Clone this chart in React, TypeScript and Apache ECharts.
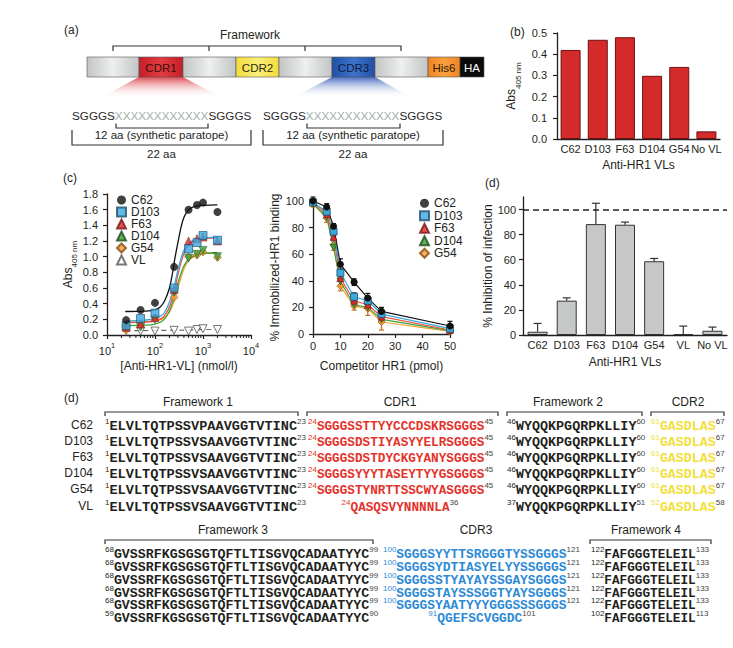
import React, { useEffect, useRef } from 'react';
import * as echarts from 'echarts';

const FONT = '"Liberation Sans", Arial, Helvetica, sans-serif';
const MONO = '"Liberation Mono", "DejaVu Sans Mono", monospace';
const INK = '#231f20';

// ---- (b) ELISA binding of the selected VLs ----
const elisaCategories = ['C62', 'D103', 'F63', 'D104', 'G54', 'No VL'];
const elisaAbs405 = [0.42, 0.468, 0.48, 0.298, 0.34, 0.036];

// ---- (c) titration against immobilized HR1 ----
const titrationNmol = [25, 50, 100, 250, 500, 750, 1000, 2000];
const titrationC62 = [0.19, 0.32, 0.41, 0.87, 1.6, 1.66, 1.69, 1.57];
const titrationD103 = [0.12, 0.21, 0.28, 0.6, 1.1, 1.18, 1.27, 1.21];
const titrationF63 = [0.1, 0.14, 0.22, 0.58, 1.2, 1.23, 1.25, 1.2];
const titrationD104 = [0.09, 0.1, 0.2, 0.55, 0.98, 1.03, 1.08, 1.0];
const titrationG54 = [0.06, 0.12, 0.22, 0.48, 1.0, 1.02, 1.06, 0.99];
const titrationVL = [0.06, 0.05, 0.05, 0.06, 0.05, 0.07, 0.08, 0.07];

// fitted binding curves, [nmol/l, Abs405]
const fitC62 = [[24, 0.3], [60, 0.305], [100, 0.32], [130, 0.36], [160, 0.44], [200, 0.6], [230, 0.78], [260, 0.98], [300, 1.18], [350, 1.38], [400, 1.5], [500, 1.6], [650, 1.64], [1000, 1.655], [2000, 1.66]];
const fitD103 = [[24, 0.18], [60, 0.19], [100, 0.21], [150, 0.27], [200, 0.42], [250, 0.62], [300, 0.83], [350, 0.98], [400, 1.08], [500, 1.17], [700, 1.22], [1000, 1.24], [2000, 1.25]];
const fitF63 = [[24, 0.16], [60, 0.165], [100, 0.18], [150, 0.23], [200, 0.36], [250, 0.55], [300, 0.77], [350, 0.93], [400, 1.04], [500, 1.15], [700, 1.21], [1000, 1.23], [2000, 1.24]];
const fitD104 = [[24, 0.12], [60, 0.125], [100, 0.14], [150, 0.19], [200, 0.31], [250, 0.48], [300, 0.66], [350, 0.79], [400, 0.88], [500, 0.97], [700, 1.02], [1000, 1.04], [2000, 1.05]];
const fitG54 = [[24, 0.165], [60, 0.17], [100, 0.18], [150, 0.21], [200, 0.29], [250, 0.43], [300, 0.6], [350, 0.74], [400, 0.84], [500, 0.95], [700, 1.01], [1000, 1.04], [2000, 1.05]];
const fitVL = [[24, 0.055], [300, 0.06], [1000, 0.07], [2000, 0.07]];
const logMinorTicks = [20, 30, 40, 50, 60, 70, 80, 90, 200, 300, 400, 500, 600, 700, 800, 900, 2000, 3000, 4000, 5000, 6000, 7000, 8000, 9000];

// ---- (c) competition with soluble HR1 ----
const competitorPmol = [0, 5, 7.5, 10, 15, 20, 25, 50];
const bindC62 = [100, 95.5, 81, 52.5, 39, 27, 17, 6];
const bindD103 = [99, 92, 77, 46, 28, 25, 15, 4];
const bindF63 = [99, 90, 73, 42, 25, 22, 13, 3];
const bindD104 = [98, 88, 65, 39.5, 22, 20, 11, 2.5];
const bindG54 = [98, 87, 67, 36, 21, 19, 9, 2];
const bindErrC62 = [3, 2.5, 2, 4, 2.5, 3.5, 3, 3.5];
const bindErrD103 = [2, 2, 2.5, 3, 3, 3, 2.5, 2];
const bindErrG54 = [2.5, 3, 4, 3.5, 3, 5, 6, 2];

// ---- (d) inhibition of infection ----
const inhibitionCategories = ['C62', 'D103', 'F63', 'D104', 'G54', 'VL', 'No VL'];
const inhibitionPct = [2.6, 27.4, 88.4, 87.9, 58.8, 0.8, 3.4];
const inhibitionErr = [6.6, 2.2, 16.6, 2.1, 2.2, 6.3, 2.9];

// ---- (d) sequences ----
const seqNames = ['C62', 'D103', 'F63', 'D104', 'G54', 'VL'];
const seqFW1 = ['ELVLTQTPSSVPAAVGGTVTINC', 'ELVLTQTPSSVSAAVGGTVTINC', 'ELVLTQTPSSVSAAVGGTVTINC', 'ELVLTQTPSSVSAAVGGTVTINC', 'ELVLTQTPSSVSAAVGGTVTINC', 'ELVLTQTPSSVSAAVGGTVTINC'];
const seqCDR1 = ['SGGGSSTTYYCCCDSKRSGGGS', 'SGGGSDSTIYASYYELRSGGGS', 'SGGGSDSTDYCKGYANYSGGGS', 'SGGGSYYYTASEYTYYGSGGGS', 'SGGGSTYNRTTSSCWYASGGGS', 'QASQSVYNNNNLA'];
const seqFW2 = ['WYQQKPGQRPKLLIY', 'WYQQKPGQRPKLLIY', 'WYQQKPGQRPKLLIY', 'WYQQKPGQRPKLLIY', 'WYQQKPGQRPKLLIY', 'WYQQKPGQRPKLLIY'];
const seqCDR2 = ['GASDLAS', 'GASDLAS', 'GASDLAS', 'GASDLAS', 'GASDLAS', 'GASDLAS'];
const seqFW3 = ['GVSSRFKGSGSGTQFTLTISGVQCADAATYYC', 'GVSSRFKGSGSGTQFTLTISGVQCADAATYYC', 'GVSSRFKGSGSGTQFTLTISGVQCADAATYYC', 'GVSSRFKGSGSGTQFTLTISGVQCADAATYYC', 'GVSSRFKGSGSGTQFTLTISGVQCADAATYYC', 'GVSSRFKGSGSGTQFTLTISGVQCADAATYYC'];
const seqCDR3 = ['SGGGSYYTTSRGGGTYSSGGGS', 'SGGGSYDTIASYELYYSSGGGS', 'SGGGSSTYAYAYSSGAYSGGGS', 'SGGGSTAYSSSGGTYAYSGGGS', 'SGGGSYAATYYYGGGSSSGGGS', 'QGEFSCVGGDC'];
const seqFW4 = ['FAFGGGTELEIL', 'FAFGGGTELEIL', 'FAFGGGTELEIL', 'FAFGGGTELEIL', 'FAFGGGTELEIL', 'FAFGGGTELEIL'];
const numFW1 = [[1, 23], [1, 23], [1, 23], [1, 23], [1, 23], [1, 23]];
const numCDR1 = [[24, 45], [24, 45], [24, 45], [24, 45], [24, 45], [24, 36]];
const numFW2 = [[46, 60], [46, 60], [46, 60], [46, 60], [46, 60], [37, 51]];
const numCDR2 = [[61, 67], [61, 67], [61, 67], [61, 67], [61, 67], [52, 58]];
const numFW3 = [[68, 99], [68, 99], [68, 99], [68, 99], [68, 99], [59, 90]];
const numCDR3 = [[100, 121], [100, 121], [100, 121], [100, 121], [100, 121], [91, 101]];
const numFW4 = [[122, 133], [122, 133], [122, 133], [122, 133], [122, 133], [102, 113]];

const COL = {
  C62: '#111111',
  D103: '#3ba8de',
  F63: '#d42b2b',
  D104: '#3a9d3a',
  G54: '#f29a2e',
};
const RED = '#e4322b';
const YELLOW = '#f2df3c';
const BLUE = '#2d8ad6';

const zip = (xs: number[], ys: number[]) => xs.map((x, i) => [x, ys[i]]);

const axisLine = { show: true, lineStyle: { color: INK, width: 1.3 } };
const axisTick = { show: true, length: 4, inside: false, lineStyle: { color: INK, width: 1.2 } };
const lab = (margin: number, extra: any = {}) => ({ color: INK, fontSize: 11, fontFamily: FONT, margin, ...extra });
const nameStyle = { color: INK, fontSize: 12, fontFamily: FONT };
const absName = {
  name: '{a|Abs}{s|405 nm}',
  nameTextStyle: {
    fontFamily: FONT,
    color: INK,
    rich: {
      a: { fontSize: 12, fontFamily: FONT, color: INK, verticalAlign: 'top' },
      s: { fontSize: 8, fontFamily: FONT, color: INK, verticalAlign: 'bottom', lineHeight: 17 },
    },
  },
};

// vertical error bar drawn in data space
const errorBar = (color: string, cap: number, both: boolean) => (_p: any, api: any) => {
  const x = api.value(0);
  const a = api.coord([x, api.value(1)]);
  const b = api.coord([x, api.value(2)]);
  const st = { stroke: color, lineWidth: 1.2 };
  const children: any[] = [
    { type: 'line', shape: { x1: a[0], y1: a[1], x2: b[0], y2: b[1] }, style: st },
    { type: 'line', shape: { x1: b[0] - cap, y1: b[1], x2: b[0] + cap, y2: b[1] }, style: st },
  ];
  if (both) children.push({ type: 'line', shape: { x1: a[0] - cap, y1: a[1], x2: a[0] + cap, y2: a[1] }, style: st });
  return { type: 'group', children };
};

const markers: Record<string, any> = {
  C62: { symbol: 'circle', symbolSize: 8, itemStyle: { color: COL.C62 } },
  D103: { symbol: 'rect', symbolSize: 8, itemStyle: { color: COL.D103, borderColor: '#1d4f6e', borderWidth: 0.8 } },
  F63: { symbol: 'triangle', symbolSize: 8, itemStyle: { color: COL.F63, borderColor: '#7a1515', borderWidth: 0.6 } },
  D104: { symbol: 'triangle', symbolRotate: 180, symbolSize: 8, itemStyle: { color: COL.D104, borderColor: '#1c4d1c', borderWidth: 0.6 } },
  G54: { symbol: 'diamond', symbolSize: 8, itemStyle: { color: COL.G54, borderColor: '#8a4a10', borderWidth: 0.6 } },
  VL: { symbol: 'triangle', symbolRotate: 180, symbolSize: 8, itemStyle: { color: '#ffffff', borderColor: '#555555', borderWidth: 1 } },
};

function buildGraphic(): any[] {
  const g: any[] = [];
  const text = (x: number, y: number, t: string, o: any = {}) =>
    g.push({
      type: 'text', x, y, silent: true,
      style: { text: t, fontFamily: FONT, fontSize: 12, fill: INK, align: 'center', textAlign: 'center', verticalAlign: 'middle', textVerticalAlign: 'middle', ...o },
    });
  const poly = (pts: number[][], w = 1.2) =>
    g.push({ type: 'polyline', silent: true, shape: { points: pts }, style: { stroke: '#333', lineWidth: w, fill: null } });
  const bracketDown = (x1: number, x2: number, y: number) => poly([[x1, y + 4], [x1, y], [x2, y], [x2, y + 4]]);

  // panel letters
  text(64, 30, '(a)', { align: 'left', textAlign: 'left' });
  text(510, 32, '(b)', { align: 'left', textAlign: 'left' });
  text(63, 178, '(c)', { align: 'left', textAlign: 'left' });
  text(485, 183, '(d)', { align: 'left', textAlign: 'left' });
  text(64, 398, '(d)', { align: 'left', textAlign: 'left' });

  // ---- (a) VL scaffold ----
  text(250, 35, 'Framework');
  poly([[113, 51], [113, 46], [401, 46], [401, 51]]);
  poly([[209, 46], [209, 51]]);
  poly([[305, 46], [305, 51]]);

  const grad = (c0: string, c1: string) => ({
    type: 'linear', x: 0, y: 0, x2: 1, y2: 0,
    colorStops: [{ offset: 0, color: c0 }, { offset: 0.5, color: c1 }, { offset: 1, color: c0 }],
  });
  // fans from CDR1 / CDR3 down to the randomized loops
  g.push({
    type: 'polygon', silent: true, shape: { points: [[139, 77], [183, 77], [222, 98], [100, 98]] },
    style: { fill: { type: 'linear', x: 0, y: 0, x2: 0, y2: 1, colorStops: [{ offset: 0, color: 'rgba(214,40,50,0.85)' }, { offset: 1, color: 'rgba(255,255,255,0)' }] } },
  });
  g.push({
    type: 'polygon', silent: true, shape: { points: [[332, 77], [375, 77], [412, 98], [292, 98]] },
    style: { fill: { type: 'linear', x: 0, y: 0, x2: 0, y2: 1, colorStops: [{ offset: 0, color: 'rgba(40,80,180,0.85)' }, { offset: 1, color: 'rgba(255,255,255,0)' }] } },
  });
  const segs: any[] = [
    { x0: 87, x1: 139, fill: grad('#c2c4c5', '#eeefef') },
    { x0: 139, x1: 183, fill: grad('#c41f2a', '#e23c42'), label: 'CDR1', tc: '#3b0d0d' },
    { x0: 183, x1: 236, fill: grad('#c2c4c5', '#eeefef') },
    { x0: 236, x1: 279, fill: grad('#f2dc3a', '#fbef7a'), label: 'CDR2', tc: '#2a2a10' },
    { x0: 279, x1: 332, fill: grad('#c2c4c5', '#eeefef') },
    { x0: 332, x1: 375, fill: grad('#2150a6', '#3d74c9'), label: 'CDR3', tc: '#0d1a40' },
    { x0: 375, x1: 428, fill: grad('#c2c4c5', '#eeefef') },
    { x0: 428, x1: 460, fill: grad('#ee8420', '#f9a040'), label: 'His6', tc: '#2a1a05' },
    { x0: 460, x1: 484, fill: '#0b0b0b', label: 'HA', tc: '#ffffff' },
  ];
  segs.forEach((s) => {
    g.push({ type: 'rect', silent: true, shape: { x: s.x0, y: 57, width: s.x1 - s.x0, height: 20 }, style: { fill: s.fill, stroke: '#555', lineWidth: 0.6 } });
    if (s.label) text((s.x0 + s.x1) / 2, 67.5, s.label, { fontSize: 11.5, fill: s.tc });
  });

  const loop = '{k|SGGGS}{x|XXXXXXXXXXXX}{k|SGGGS}';
  const loopRich = {
    k: { fontSize: 11.7, fontFamily: FONT, fill: '#2a2a2a' },
    x: { fontSize: 11.7, fontFamily: FONT, fill: '#9fb1aa' },
  };
  [[72, 251, 116, 208], [263, 443, 307, 400]].forEach(([o1, o2, i1, i2]) => {
    text(o1, 115, loop, { align: 'left', textAlign: 'left', rich: loopRich });
    poly([[i1, 123.5], [i1, 128], [i2, 128], [i2, 123.5]]);
    text((o1 + o2) / 2, 135, '12 aa (synthetic paratope)', { fontSize: 11.5 });
    poly([[o1, 130], [o1, 145], [o2, 145], [o2, 130]]);
    text((o1 + o2) / 2, 154, '22 aa', { fontSize: 11.5 });
  });

  // ---- (d) sequence alignment ----
  const rowsTop = [425, 441, 457, 473, 489, 506];
  const rowsBottom = [553, 566, 579, 592, 604, 617];
  seqNames.forEach((n, i) => text(93, rowsTop[i], n, { align: 'right', textAlign: 'right', fontSize: 12 }));

  const seq = (x: number, y: number, s: string, range: number[], color: string, size: number, align = 'left') => {
    text(x, y, `{p|${range[0]}}{m|${s}}{q|${range[1]}}`, {
      align, textAlign: align,
      rich: {
        p: { fontSize: 8, fontFamily: FONT, fill: color, verticalAlign: 'top' },
        m: { fontSize: size, fontFamily: MONO, fontWeight: 'bold', fill: color, verticalAlign: 'bottom', lineHeight: 16 },
        q: { fontSize: 8, fontFamily: FONT, fill: '#444', verticalAlign: 'top' },
      },
    });
  };
  const last = seqNames.length - 1;
  seqNames.forEach((_, i) => {
    const yt = rowsTop[i];
    const yb = rowsBottom[i];
    seq(105, yt, seqFW1[i], numFW1[i], INK, 13.6);
    if (i === last) seq(400, yt, seqCDR1[i], numCDR1[i], RED, 12.7, 'center');
    else seq(308, yt, seqCDR1[i], numCDR1[i], RED, 12.7);
    seq(507, yt, seqFW2[i], numFW2[i], INK, 13.4);
    seq(651, yt, seqCDR2[i], numCDR2[i], YELLOW, 13.3);
    seq(105, yb, seqFW3[i], numFW3[i], INK, 13.3);
    if (i === last) seq(482, yb, seqCDR3[i], numCDR3[i], BLUE, 12.9, 'center');
    else seq(383, yb, seqCDR3[i], numCDR3[i], BLUE, 12.9);
    seq(591, yb, seqFW4[i], numFW4[i], INK, 12.7);
  });

  text(198, 402, 'Framework 1');
  text(400, 402, 'CDR1');
  text(568, 402, 'Framework 2');
  text(688, 402, 'CDR2');
  bracketDown(105, 298, 412);
  bracketDown(307, 498, 412);
  bracketDown(507, 642, 412);
  bracketDown(651, 724, 412);

  text(233, 530, 'Framework 3');
  text(476, 530, 'CDR3');
  text(646, 530, 'Framework 4');
  bracketDown(105, 373, 540);
  bracketDown(590, 711, 540);
  return g;
}

function buildOption(): any {
  const series: any[] = [];

  // (b)
  series.push({
    type: 'bar', xAxisIndex: 0, yAxisIndex: 0, data: elisaAbs405, barWidth: 20,
    itemStyle: { color: '#d42a2a', borderColor: '#6e1212', borderWidth: 1 },
  });

  // (c) titration: measured points
  const titr: [string, number[]][] = [
    ['VL', titrationVL], ['G54', titrationG54], ['D104', titrationD104], ['F63', titrationF63], ['D103', titrationD103], ['C62', titrationC62],
  ];
  // fitted curves under the points
  const fits: [string, number[][], string][] = [
    ['G54', fitG54, '#f5a030'], ['D104', fitD104, '#3aa33a'], ['F63', fitF63, '#f05040'], ['D103', fitD103, '#3ba8de'], ['C62', fitC62, '#111111'],
  ];
  fits.forEach(([n, d, c]) =>
    series.push({
      name: n + ' fit', type: 'line', xAxisIndex: 1, yAxisIndex: 1, data: d, smooth: 0.35, showSymbol: false, symbol: 'none',
      lineStyle: { color: c, width: 1.3 }, z: 3, silent: true,
    }));
  series.push({
    name: 'VL fit', type: 'line', xAxisIndex: 1, yAxisIndex: 1, data: fitVL, showSymbol: false, symbol: 'none',
    lineStyle: { color: '#666', width: 1.2, type: [5, 4] }, z: 3, silent: true,
  });
  titr.forEach(([n, v]) =>
    series.push({ name: n, type: 'scatter', xAxisIndex: 1, yAxisIndex: 1, data: zip(titrationNmol, v), z: 5, ...markers[n] }));
  series.push({
    type: 'custom', xAxisIndex: 1, yAxisIndex: 1, silent: true, clip: false, z: 6,
    data: logMinorTicks.map((v) => [v, 0]),
    renderItem: (_p: any, api: any) => {
      const p = api.coord([api.value(0), 0]);
      return { type: 'line', shape: { x1: p[0], y1: p[1], x2: p[0], y2: p[1] + 3 }, style: { stroke: INK, lineWidth: 1 } };
    },
  });

  // (c) competition
  const comp: [string, number[], string][] = [
    ['G54', bindG54, '#f5a030'], ['D104', bindD104, '#3aa33a'], ['F63', bindF63, '#f05040'], ['D103', bindD103, '#3ba8de'], ['C62', bindC62, '#111111'],
  ];
  const errs: [number[], number[], string][] = [
    [bindG54, bindErrG54, '#c07020'], [bindD103, bindErrD103, '#1d4f6e'], [bindC62, bindErrC62, '#111111'],
  ];
  errs.forEach(([v, e, c]) =>
    series.push({
      type: 'custom', xAxisIndex: 2, yAxisIndex: 2, silent: true, clip: false, z: 2,
      data: competitorPmol.map((x, i) => [x, v[i] - e[i], v[i] + e[i]]),
      renderItem: errorBar(c, 2.5, true),
    }));
  comp.forEach(([n, v, c]) =>
    series.push({
      name: n, type: 'line', xAxisIndex: 2, yAxisIndex: 2, data: zip(competitorPmol, v), showSymbol: true,
      lineStyle: { color: c, width: 1.2 }, z: 4, ...markers[n], symbolSize: 7,
    }));

  // (d) inhibition
  series.push({
    type: 'bar', xAxisIndex: 3, yAxisIndex: 3, data: inhibitionPct, barWidth: 20, z: 2,
    itemStyle: { color: '#c6c7c7', borderColor: '#333', borderWidth: 1 },
    markLine: {
      silent: true, symbol: ['none', 'none'], label: { show: false },
      lineStyle: { color: INK, width: 1.5, type: [6, 4] },
      data: [{ yAxis: 100 }],
    },
  });
  series.push({
    type: 'custom', xAxisIndex: 3, yAxisIndex: 3, silent: true, clip: false, z: 3,
    data: inhibitionPct.map((v, i) => [i, v, v + inhibitionErr[i]]),
    renderItem: errorBar('#333', 4, false),
  });

  const gridBase = { outerBoundsMode: 'none', containLabel: false, show: false };

  return {
    animation: false,
    backgroundColor: '#ffffff',
    textStyle: { fontFamily: FONT },
    grid: [
      { ...gridBase, left: 557, top: 33, width: 163, height: 106 },
      { ...gridBase, left: 107, top: 194, width: 144, height: 141 },
      { ...gridBase, left: 313, top: 201, width: 137, height: 133 },
      { ...gridBase, left: 523, top: 197, width: 204, height: 138 },
    ],
    xAxis: [
      {
        gridIndex: 0, type: 'category', data: elisaCategories, axisLine, axisTick: { show: false },
        axisLabel: lab(4, { interval: 0 }), splitLine: { show: false },
        name: 'Anti-HR1 VLs', nameLocation: 'middle', nameGap: 20, nameTextStyle: nameStyle,
      },
      {
        gridIndex: 1, type: 'log', logBase: 10, min: 10, max: 10000, axisLine, axisTick,
        axisLabel: {
          margin: 6,
          formatter: (v: number) => `{b|10}{s|${Math.round(Math.log10(v))}}`,
          rich: {
            b: { fontSize: 11, fontFamily: FONT, color: INK, verticalAlign: 'bottom', lineHeight: 15 },
            s: { fontSize: 7.5, fontFamily: FONT, color: INK, verticalAlign: 'top' },
          },
        },
        splitLine: { show: false }, minorTick: { show: false },
        name: '[Anti-HR1-VL] (nmol/l)', nameLocation: 'middle', nameGap: 25, nameTextStyle: nameStyle,
      },
      {
        gridIndex: 2, type: 'value', min: 0, max: 50, interval: 10, axisLine, axisTick,
        axisLabel: lab(6), splitLine: { show: false },
        name: 'Competitor HR1 (pmol)', nameLocation: 'middle', nameGap: 26, nameTextStyle: nameStyle,
      },
      {
        gridIndex: 3, type: 'category', data: inhibitionCategories, axisLine, axisTick: { show: false },
        axisLabel: lab(4, { interval: 0 }), splitLine: { show: false },
        name: 'Anti-HR1 VLs', nameLocation: 'middle', nameGap: 21, nameTextStyle: nameStyle,
      },
    ],
    yAxis: [
      {
        gridIndex: 0, type: 'value', min: 0, max: 0.5, interval: 0.1, axisLine, axisTick,
        axisLabel: lab(10, { formatter: (v: number) => v.toFixed(1) }), splitLine: { show: false },
        nameLocation: 'middle', nameRotate: 90, nameGap: 35, ...absName,
      },
      {
        gridIndex: 1, type: 'value', min: 0, max: 1.8, interval: 0.2, axisLine, axisTick,
        axisLabel: lab(9, { formatter: (v: number) => v.toFixed(1) }), splitLine: { show: false },
        nameLocation: 'middle', nameRotate: 90, nameGap: 28, ...absName,
      },
      {
        gridIndex: 2, type: 'value', min: 0, max: 100, interval: 20, axisLine, axisTick,
        axisLabel: lab(9), splitLine: { show: false },
        name: '% Immobilized-HR1 binding', nameLocation: 'middle', nameRotate: 90, nameGap: 32, nameTextStyle: nameStyle,
      },
      {
        gridIndex: 3, type: 'value', min: 0, max: 110, interval: 20, axisLine,
        axisTick: { ...axisTick, customValues: [0, 20, 40, 60, 80, 100] },
        axisLabel: lab(7, { customValues: [0, 20, 40, 60, 80, 100] }), splitLine: { show: false },
        name: '% Inhibition of infection', nameLocation: 'middle', nameRotate: 90, nameGap: 28, nameTextStyle: nameStyle,
      },
    ],
    legend: [
      {
        data: ['C62', 'D103', 'F63', 'D104', 'G54', 'VL'], orient: 'vertical', left: 116, top: 194,
        itemWidth: 9, itemHeight: 9, itemGap: 0, padding: 0, selectedMode: false,
        textStyle: { color: INK, fontSize: 12, fontFamily: FONT, lineHeight: 12 },
      },
      {
        data: ['C62', 'D103', 'F63', 'D104', 'G54'], orient: 'vertical', left: 419, top: 197,
        itemWidth: 9, itemHeight: 9, itemGap: 0, padding: 0, selectedMode: false,
        textStyle: { color: INK, fontSize: 12, fontFamily: FONT, lineHeight: 12.5 },
      },
    ],
    series,
    graphic: { elements: buildGraphic() },
  };
}

export default function App() {
  const ref = useRef<HTMLDivElement>(null);
  useEffect(() => {
    if (!ref.current) return;
    const chart = echarts.init(ref.current, undefined, { renderer: 'svg' });
    chart.setOption(buildOption());
    return () => chart.dispose();
  }, []);
  return (
    <div
      ref={ref}
      style={{ position: 'absolute', left: 0, top: 0, width: 733, height: 648, background: '#ffffff' }}
    />
  );
}
